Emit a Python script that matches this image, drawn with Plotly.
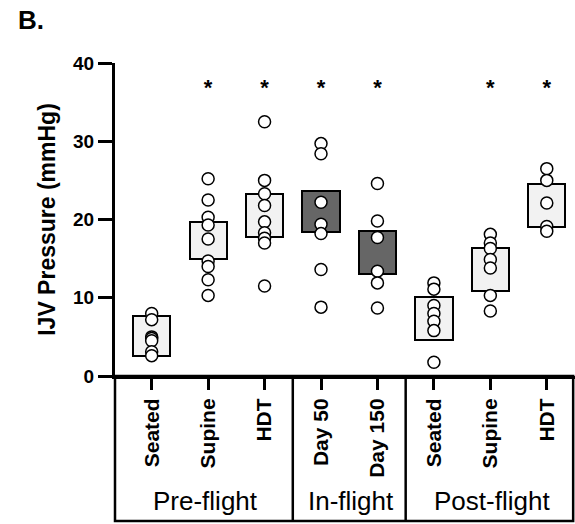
import plotly.graph_objects as go

# ---- data ----
categories = ["Seated", "Supine", "HDT", "Day 50", "Day 150", "Seated", "Supine", "HDT"]
groups = ["Pre-flight", "In-flight", "Post-flight"]
group_members = [3, 2, 3]
bar_low = [2.6, 14.9, 17.8, 18.4, 13.0, 4.6, 10.8, 19.0]
bar_high = [7.7, 19.7, 23.3, 23.6, 18.5, 10.1, 16.3, 24.6]
bar_colors = ["#f2f2f2", "#f2f2f2", "#f2f2f2", "#666666", "#666666", "#f2f2f2", "#f2f2f2", "#f2f2f2"]
points = [
    [8.0, 7.2, 5.0, 4.8, 4.5, 3.1, 2.6],
    [25.2, 22.5, 20.3, 19.3, 17.5, 14.7, 14.0, 12.3, 10.3],
    [32.5, 25.0, 23.3, 21.8, 19.7, 18.3, 17.6, 17.0, 11.5],
    [29.7, 28.4, 22.2, 19.4, 18.2, 13.6, 8.8],
    [24.6, 19.8, 17.7, 13.4, 11.9, 8.7],
    [11.9, 11.1, 9.0, 8.0, 7.0, 5.8, 1.75],
    [18.1, 17.0, 16.3, 14.9, 13.8, 10.3, 8.3],
    [26.5, 25.0, 22.1, 19.1, 18.5],
]
significant = [False, True, True, True, True, False, True, True]
y_ticks = [0, 10, 20, 30, 40]
star_level = 36.6

FONT = "Liberation Sans, Arial, sans-serif"
xpos = list(range(len(categories)))

fig = go.Figure()

fig.add_trace(go.Bar(
    x=xpos,
    y=[h - l for h, l in zip(bar_high, bar_low)],
    base=bar_low,
    width=0.66,
    marker=dict(color=bar_colors, line=dict(color="black", width=2)),
    hoverinfo="skip",
    showlegend=False,
))

px_, py_ = [], []
for i, vals in enumerate(points):
    px_ += [xpos[i]] * len(vals)
    py_ += vals
fig.add_trace(go.Scatter(
    x=px_, y=py_, mode="markers",
    marker=dict(size=12, color="white", line=dict(color="black", width=1.5)),
    showlegend=False,
))

sx = [xpos[i] for i, s in enumerate(significant) if s]
fig.add_trace(go.Scatter(
    x=sx, y=[star_level] * len(sx), mode="text", text=["*"] * len(sx),
    textposition="middle center",
    textfont=dict(family=FONT, size=22, color="black", weight="bold"),
    showlegend=False,
))

# group table below axis
table_bottom = -0.463
shapes = [dict(type="rect", xref="paper", yref="paper", x0=0, x1=0.996,
               y0=table_bottom, y1=0, line=dict(color="black", width=2.5))]
annotations = []
start = 0
for g, n in zip(groups, group_members):
    end = start + n
    left = -0.65 if start == 0 else start - 0.5
    right = 7.5 if end == len(categories) else end - 0.5
    if end < len(categories):
        shapes.append(dict(type="line", xref="x", yref="paper", x0=end - 0.5, x1=end - 0.5,
                           y0=table_bottom, y1=0, line=dict(color="black", width=2.5)))
    annotations.append(dict(text=g, xref="x", yref="paper", x=(left + right) / 2 + 0.03, y=-0.40,
                            showarrow=False, xanchor="center", yanchor="middle",
                            font=dict(family=FONT, size=26, color="black")))
    start = end

annotations.append(dict(text="<b>B.</b>", xref="paper", yref="paper", x=-0.215, y=1.137,
                        xanchor="left", yanchor="middle", showarrow=False,
                        font=dict(family=FONT, size=26, color="black")))

fig.update_layout(
    width=575, height=524,
    margin=dict(l=115, r=0, t=63, b=148),
    paper_bgcolor="white", plot_bgcolor="white",
    font=dict(family=FONT, color="black"),
    shapes=shapes, annotations=annotations,
    bargap=0,
)
fig.update_xaxes(
    range=[-0.65, 7.5], tickvals=xpos, ticktext=categories, tickangle=-90,
    ticks="outside", ticklen=11, tickwidth=2.5, tickcolor="black",
    showline=True, linewidth=3, linecolor="black", showgrid=False, zeroline=False,
    tickfont=dict(family=FONT, size=21, color="black", weight="bold"),
)
fig.update_yaxes(
    range=[0, 40], tickvals=y_ticks, ticks="outside", ticklen=14, tickwidth=2.5, tickcolor="black",
    showline=True, linewidth=3, linecolor="black", showgrid=False, zeroline=False,
    tickfont=dict(family=FONT, size=19, color="black", weight="bold"),
    title=dict(text="IJV Pressure (mmHg)", standoff=12,
               font=dict(family=FONT, size=23, color="black", weight="bold")),
)

fig.write_html("out.html", config={"displayModeBar": False},
               post_script="document.body.style.margin='0';")
